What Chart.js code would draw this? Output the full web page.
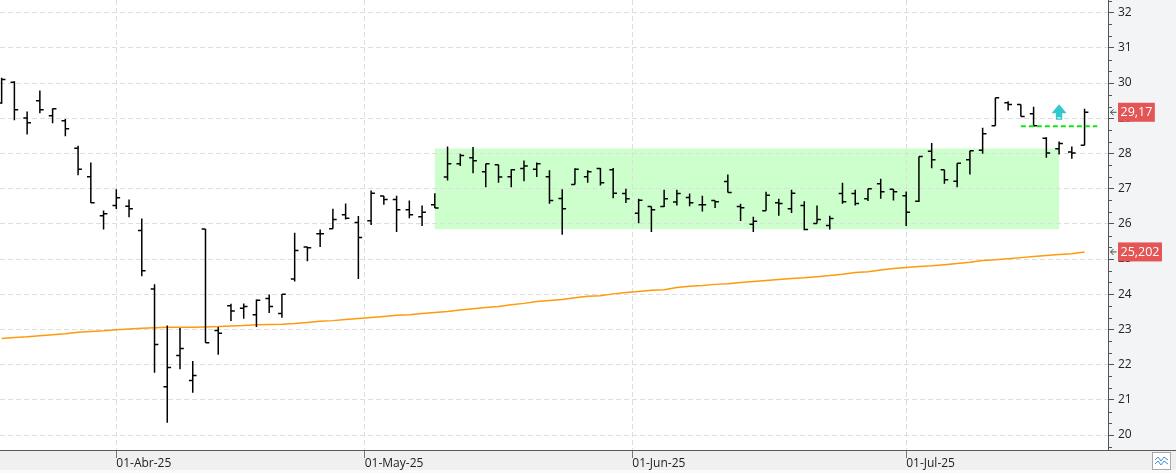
<!DOCTYPE html>
<html>
<head>
<meta charset="utf-8">
<script src="https://cdn.jsdelivr.net/npm/chart.js@4/dist/chart.umd.min.js"></script>
<style>
html,body{margin:0;padding:0;background:#fff;}
#wrap{width:1176px;height:473px;position:relative;}
canvas{display:block;}
</style>
</head>
<body>
<div id="wrap"><canvas id="c" width="1176" height="473"></canvas></div>
<script>
// ---- Data ----
const opens = [29.43,30.02,29.01,29.50,29.07,28.93,28.15,27.34,26.23,26.52,
26.50,25.81,24.15,21.37,22.26,21.55,25.85,22.97,23.67,23.60,
23.42,23.88,23.45,24.43,25.34,25.72,25.86,26.26,26.04,26.09,
26.79,26.69,26.40,26.20,26.54,27.33,27.71,27.88,27.48,27.68,
27.34,27.57,27.55,27.34,26.72,27.12,27.34,27.57,27.54,26.86,
26.30,26.49,26.49,26.62,26.75,26.54,26.66,27.20,26.49,25.99,
26.37,26.60,26.43,26.52,26.01,25.95,26.86,26.86,26.71,27.14,
26.98,26.80,26.64,28.06,27.54,27.21,27.82,28.09,28.79,29.44,
29.39,29.13,28.43,28.13,28.04,28.23];
const highs = [30.15,30.05,29.19,29.79,29.28,28.98,28.22,27.74,26.38,26.98,
26.69,26.15,24.28,23.11,23.04,22.10,25.85,23.07,23.73,23.74,
23.85,23.99,24.01,25.75,25.35,25.84,26.43,26.58,26.22,26.95,
26.79,26.80,26.66,26.52,26.87,28.20,27.99,28.18,27.71,27.68,
27.55,27.80,27.74,27.52,26.98,27.58,27.52,27.59,27.59,27.00,
26.71,26.49,26.97,26.97,26.86,26.80,26.66,27.40,26.57,26.20,
26.91,26.71,26.97,26.64,26.52,26.23,27.17,26.97,27.00,27.28,
26.98,26.92,27.91,28.30,27.54,27.72,28.08,28.73,29.58,29.48,
29.39,29.33,28.46,28.34,28.20,29.27];
const lows = [29.41,28.94,28.54,29.14,28.86,28.49,27.38,26.59,25.84,26.42,
26.19,24.51,21.77,20.35,21.87,21.20,22.62,22.28,23.24,23.30,
23.07,23.47,23.33,24.36,24.94,25.34,25.86,26.12,24.43,25.97,
26.54,25.77,26.16,25.94,26.45,27.23,27.64,27.44,27.04,27.17,
27.04,27.21,27.33,26.57,25.69,27.12,27.17,27.09,26.73,26.59,
26.02,25.77,26.48,26.52,26.50,26.35,26.45,26.89,26.08,25.77,
26.37,26.23,26.31,25.82,26.01,25.84,26.57,26.52,26.65,26.71,
26.66,25.94,26.62,27.58,27.14,27.04,27.40,27.99,28.79,29.22,
29.05,28.77,27.88,27.97,27.85,28.23];
const closes = [30.10,29.24,28.87,29.24,29.27,28.70,27.55,26.60,26.29,26.74,
26.43,24.67,22.57,21.92,22.46,21.69,22.62,22.89,23.52,23.65,
23.83,23.65,24.00,25.24,25.32,25.72,26.12,26.16,25.61,26.87,
26.69,26.40,26.26,26.33,26.45,27.71,27.94,27.79,27.71,27.33,
27.54,27.64,27.71,26.66,26.43,27.55,27.48,27.17,26.87,26.71,
26.67,26.40,26.71,26.86,26.60,26.54,26.63,26.89,26.46,26.07,
26.81,26.58,26.87,25.84,26.12,26.15,26.63,26.58,27.00,26.91,
26.91,26.33,27.91,27.82,27.25,27.72,28.08,28.56,29.58,29.39,
29.05,28.79,28.01,28.28,28.01,29.17];
const movingAvg = [22.74,22.77,22.79,22.82,22.85,22.88,22.92,22.94,22.96,22.99,
23.01,23.03,23.05,23.06,23.06,23.06,23.07,23.08,23.10,23.11,
23.13,23.14,23.15,23.17,23.20,23.23,23.25,23.28,23.31,23.34,
23.37,23.40,23.42,23.45,23.48,23.51,23.55,23.59,23.62,23.65,
23.70,23.74,23.79,23.82,23.85,23.90,23.94,23.96,24.01,24.05,
24.08,24.11,24.13,24.19,24.23,24.25,24.28,24.30,24.33,24.36,
24.39,24.42,24.45,24.47,24.50,24.53,24.57,24.62,24.64,24.69,
24.73,24.76,24.79,24.81,24.84,24.87,24.91,24.96,24.98,25.01,
25.04,25.07,25.10,25.13,25.15,25.20];

// x-axis: bar index of month starts (01-May and 01-Jun fall between sessions)
const xTickPositions = [9, 28.5, 49.5, 71];
const xTickLabels = ['01-Abr-25', '01-May-25', '01-Jun-25', '01-Jul-25'];
const yTickValues = [20,21,22,23,24,25,26,27,28,29,30,31,32];

// annotations
const boxBars = [34, 83];
const boxPrices = [25.85, 28.14];
const breakoutBars = [80, 86];
const breakoutPrice = 28.77;
const arrowBar = [83];
const arrowPrice = [28.96];
const tagValues = [29.17, 25.202];
const tagTexts = ['29,17', '25,202'];

// ---- Build line tables for OHLC bars ----
const TICK = 0.3;
const hlData = [], openData = [], closeData = [];
for (let i = 0; i < closes.length; i++) {
  hlData.push({x: i, y: lows[i]}, {x: i, y: highs[i]}, {x: i, y: null});
  openData.push({x: i - TICK, y: opens[i]}, {x: i, y: opens[i]}, {x: i, y: null});
  closeData.push({x: i, y: closes[i]}, {x: i + TICK, y: closes[i]}, {x: i + TICK, y: null});
}
const maData = movingAvg.map((v, i) => ({x: i, y: v}));

Chart.defaults.font.family = "'Open Sans', 'Noto Sans', sans-serif";
Chart.defaults.font.size = 12;

const decor = {
  id: 'decor',
  beforeDraw(chart) {
    const ctx = chart.ctx, a = chart.chartArea;
    const xs = chart.scales.x, ys = chart.scales.y;
    ctx.save();
    ctx.fillStyle = '#f3f4f6';
    ctx.fillRect(a.right, 0, chart.width - a.right, chart.height);
    ctx.fillStyle = '#f0f0f0';
    ctx.fillRect(0, a.bottom, chart.width, chart.height - a.bottom);
    ctx.fillStyle = '#fafafa';
    ctx.fillRect(0, chart.height - 3, chart.width, 3);
    ctx.fillStyle = '#ffffff';
    ctx.fillRect(a.left, a.top, a.right - a.left, a.bottom - a.top);
    // consolidation box
    const x1 = xs.getPixelForValue(boxBars[0]), x2 = xs.getPixelForValue(boxBars[1]);
    const y1 = ys.getPixelForValue(boxPrices[1]), y2 = ys.getPixelForValue(boxPrices[0]);
    ctx.fillStyle = '#ccffcc';
    ctx.fillRect(x1, y1, x2 - x1, y2 - y1);
    ctx.restore();
  },
  afterDraw(chart) {
    const ctx = chart.ctx, a = chart.chartArea;
    const xs = chart.scales.x, ys = chart.scales.y;
    ctx.save();
    // bottom line across full width
    ctx.strokeStyle = '#5a5a5a';
    ctx.lineWidth = 1;
    ctx.beginPath();
    ctx.moveTo(0, a.bottom + 0.5); ctx.lineTo(chart.width, a.bottom + 0.5);
    ctx.stroke();
    // minor ticks on the price axis (thirds)
    ctx.strokeStyle = '#555';
    for (let n = 19; n <= 32; n++) {
      for (let k = 1; k <= 2; k++) {
        const v = n + k / 3;
        if (v < ys.min || v > ys.max) continue;
        const py = Math.round(ys.getPixelForValue(v)) + 0.5;
        ctx.beginPath();
        ctx.moveTo(a.right, py); ctx.lineTo(a.right + 4, py);
        ctx.stroke();
      }
    }
    // price tags
    ctx.font = "12.5px 'Open Sans', 'Noto Sans', sans-serif";
    ctx.textBaseline = 'middle';
    tagValues.forEach((v, i) => {
      const py = ys.getPixelForValue(v);
      const tw = ctx.measureText(tagTexts[i]).width;
      const bx = a.right + 10;
      ctx.fillStyle = '#e45555';
      ctx.fillRect(bx, py - 9.5, tw + 5, 19);
      ctx.fillStyle = '#ffffff';
      ctx.textAlign = 'left';
      ctx.fillText(tagTexts[i], bx + 2.5, py + 0.5);
      // small arrow pointing to the axis
      ctx.strokeStyle = '#444';
      ctx.lineWidth = 1;
      ctx.beginPath();
      ctx.moveTo(a.right + 2.5, py); ctx.lineTo(a.right + 8.5, py);
      ctx.moveTo(a.right + 5.5, py - 3); ctx.lineTo(a.right + 2.5, py); ctx.lineTo(a.right + 5.5, py + 3);
      ctx.stroke();
    });
    // up arrow marker
    arrowBar.forEach((b, i) => {
      const cx = xs.getPixelForValue(b);
      const by = ys.getPixelForValue(arrowPrice[i]);
      ctx.fillStyle = '#33c9cc';
      ctx.beginPath();
      ctx.moveTo(cx, by - 15.5);
      ctx.lineTo(cx + 7.5, by - 6.3);
      ctx.lineTo(cx + 3.2, by - 6.3);
      ctx.lineTo(cx + 3.2, by);
      ctx.lineTo(cx - 3.2, by);
      ctx.lineTo(cx - 3.2, by - 6.3);
      ctx.lineTo(cx - 7.5, by - 6.3);
      ctx.closePath();
      ctx.fill();
      ctx.fillStyle = '#ffffff';
      ctx.fillRect(cx - 1.8, by - 2.3, 3.6, 1);
    });
    // corner icon
    ctx.fillStyle = '#ffffff';
    ctx.fillRect(1152.5, 452.5, 18, 17);
    ctx.strokeStyle = '#a8a8a8';
    ctx.strokeRect(1152.5, 452.5, 18, 17);
    ctx.strokeStyle = '#4a8fd8';
    ctx.beginPath();
    ctx.moveTo(1155, 460); ctx.lineTo(1158, 457); ctx.lineTo(1161, 461); ctx.lineTo(1164, 457); ctx.lineTo(1168, 460);
    ctx.moveTo(1155, 464); ctx.lineTo(1158, 461); ctx.lineTo(1161, 465); ctx.lineTo(1164, 461); ctx.lineTo(1168, 464);
    ctx.stroke();
    ctx.restore();
  }
};

new Chart(document.getElementById('c'), {
  type: 'line',
  data: {
    datasets: [
      {data: [{x: breakoutBars[0], y: breakoutPrice}, {x: breakoutBars[1], y: breakoutPrice}],
       borderColor: '#1be01b', borderWidth: 2, borderDash: [5, 3], pointRadius: 0, order: 0},
      {data: hlData, borderColor: '#000', borderWidth: 1.5, pointRadius: 0, spanGaps: false, order: 1},
      {data: openData, borderColor: '#000', borderWidth: 1.5, pointRadius: 0, spanGaps: false, order: 1},
      {data: closeData, borderColor: '#000', borderWidth: 1.5, pointRadius: 0, spanGaps: false, order: 1},
      {data: maData, borderColor: '#ff9a0a', borderWidth: 1.5, pointRadius: 0, order: 2}
    ]
  },
  options: {
    responsive: false,
    animation: false,
    events: [],
    layout: {padding: 0},
    plugins: {legend: {display: false}, tooltip: {enabled: false}},
    scales: {
      x: {
        type: 'linear',
        min: -0.129,
        max: 86.84,
        afterBuildTicks: (s) => { s.ticks = xTickPositions.map(v => ({value: v})); },
        afterFit: (s) => { s.height = 23; s.paddingLeft = 0; s.paddingRight = 0; },
        ticks: {
          callback: (v, i) => xTickLabels[i],
          align: 'start',
          color: '#222',
          padding: -2,
          maxRotation: 0,
          autoSkip: false,
          font: {size: 12}
        },
        grid: {color: '#dedede', tickColor: '#777', tickLength: 8, tickBorderDash: [], drawTicks: true},
        border: {display: false, dash: [5, 3]}
      },
      y: {
        position: 'right',
        min: 19.574,
        max: 32.36,
        afterBuildTicks: (s) => { s.ticks = yTickValues.map(v => ({value: v})); },
        afterFit: (s) => { s.width = 68; s.paddingTop = 0; s.paddingBottom = 0; },
        ticks: {callback: (v) => String(v), color: '#222', padding: 4, font: {size: 12}},
        grid: {color: '#dedede', tickColor: '#555', tickLength: 6, tickBorderDash: []},
        border: {display: true, color: '#555', width: 1, dash: [5, 3]}
      }
    }
  },
  plugins: [decor]
});
</script>
</body>
</html>
